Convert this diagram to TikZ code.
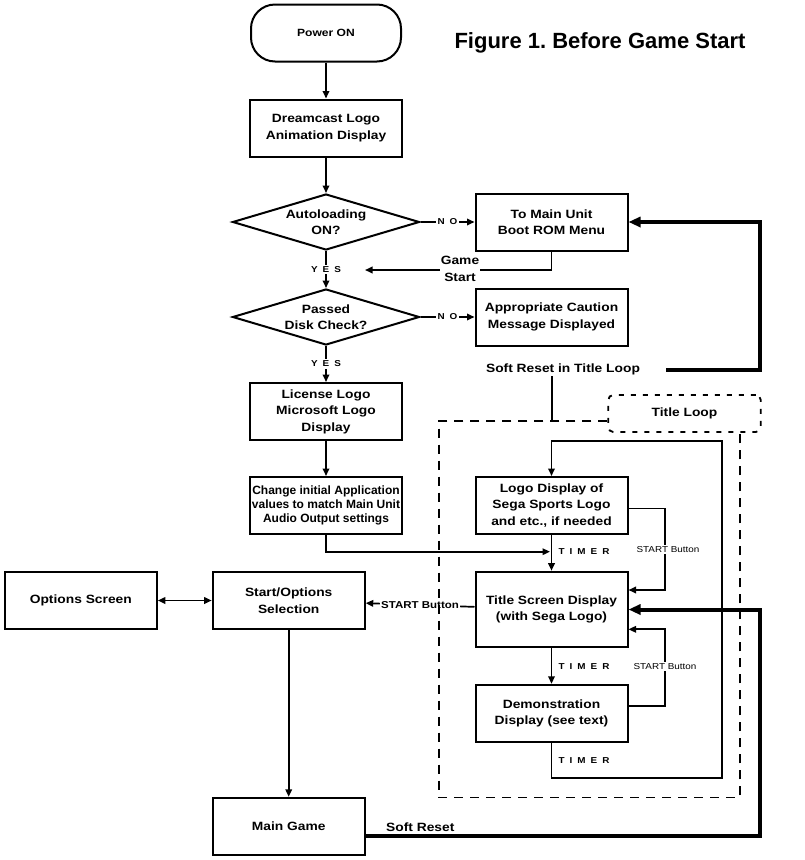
\documentclass[tikz,border=0pt]{standalone}
\usepackage{fontspec}
\setmainfont{Liberation Sans}[FakeStretch=1.15]
\newfontfamily\plainsans{Liberation Sans}
\usetikzlibrary{shapes.geometric,arrows.meta}
\newcommand\lsp{\kern5pt}

\begin{document}
\begin{tikzpicture}[x=1pt,y=-1pt,
    >={Triangle[length=7.5pt,width=6.5pt]},
    box/.style={draw,line width=2pt,minimum width=152pt,minimum height=57pt,inner sep=0pt,align=center,font=\bfseries\fontsize{12}{16.5}\selectfont},
    decision/.style={draw,diamond,line width=2pt,aspect=3.34,minimum width=187pt,minimum height=56pt,inner sep=0pt,align=center,font=\bfseries\fontsize{12}{16.5}\selectfont},
    flow/.style={line width=1.7pt},
    reset/.style={line width=4pt,-{Triangle[length=12pt,width=10pt]}},
    tag/.style={font=\bfseries\fontsize{8.6}{10}\selectfont,inner sep=1.5pt,fill=white},
    smalltag/.style={font=\fontsize{8.6}{10}\selectfont,inner sep=1.5pt,fill=white},
    label/.style={font=\bfseries\fontsize{12}{16.3}\selectfont,align=center,inner sep=1pt}]

\useasboundingbox (0,0) rectangle (805,860);

% main column
\node[box,rounded corners=24pt,minimum width=150pt,font=\bfseries\fontsize{10.5}{12}\selectfont] (power) at (326,33) {Power ON};
\node[font=\plainsans\bfseries\fontsize{22}{26}\selectfont] (figtitle) at (600,43) {Figure 1.\ Before Game Start};
\node[box] (dream) at (326,128) {Dreamcast Logo\\Animation Display};
\node[decision] (auto) at (326,222) {Autoloading\\ON?};
\node[box] (boot) at (551.5,222) {To Main Unit\\Boot ROM Menu};
\node[decision] (passed) at (326,317) {Passed\\Disk Check?};
\node[box] (caution) at (551.5,317) {Appropriate Caution\\Message Displayed};
\node[box] (license) at (326,411.5) {License Logo\\Microsoft Logo\\Display};
\node[box,font=\plainsans\bfseries\fontsize{12}{14}\selectfont] (change) at (326,505.5) {Change initial Application\\values to match Main Unit\\Audio Output settings};

% title loop
\node[box] (logo) at (551.5,505.5) {Logo Display of\\Sega Sports Logo\\and etc., if needed};
\node[box,minimum height=75.6pt] (titlescr) at (551.5,609.5) {Title Screen Display\\(with Sega Logo)};
\node[box] (demo) at (551.5,713.3) {Demonstration\\Display (see text)};
\node[box] (startsel) at (288.7,600.5) {Start/Options\\Selection};
\node[box] (options) at (80.8,600.5) {Options Screen};
\node[box] (maingame) at (288.7,826.3) {Main Game};

\draw[flow,->] (power) -- (dream);
\draw[flow,->] (dream) -- (auto);
\draw[flow,->] (auto) -- node[tag] (no1) {N\lsp O} (boot);
\draw[flow,->] (auto) -- node[tag] (yes1) {Y\lsp E\lsp S} (passed);
\draw[flow,->] (passed) -- node[tag] (no2) {N\lsp O} (caution);
\draw[flow,->] (passed) -- node[tag] (yes2) {Y\lsp E\lsp S} (license);
\draw[flow,->] (license) -- (change);

\coordinate (gsend) at (365,270);
\draw[flow,->] (boot.south) |- (gsend);
\node[label,fill=white] (gamestart) at (460,269) {Game\\Start};

\coordinate (timerjoin) at (550,551.7);
\draw[flow,->] (change.south) |- (timerjoin);
\node[tag,anchor=west,fill=none] (timer1) at (557,552) {T\lsp I\lsp M\lsp E\lsp R};
\draw[flow,->] (logo) -- (titlescr);

\coordinate (sbup) at (665,590);
\draw[flow,->] ([yshift=-3pt]logo.east) -| (sbup) -- (sbup -| titlescr.east);
\node[smalltag] (start1) at (668,549.5) {START Button};

\draw[flow,->] (titlescr) -- node[label,fill=white,font=\bfseries\fontsize{10}{12}\selectfont] (start2) {START Button} (startsel);
\draw[flow,->] (titlescr) -- (demo);
\node[tag,anchor=west,fill=none] (timer2) at (557,666.7) {T\lsp I\lsp M\lsp E\lsp R};

\coordinate (sbdown) at (665,629.3);
\draw[flow,->] ([yshift=7.6pt]demo.east) -| (sbdown) -- (sbdown -| titlescr.east);
\node[smalltag] (start3) at (665,666.7) {START Button};

\coordinate (loopbr) at (722,778.3);
\coordinate (looptr) at (722,441);
\draw[flow,->] (demo.south) |- (loopbr) -- (looptr) -| (logo.north);
\node[tag,anchor=west,fill=none] (timer3) at (557,760.5) {T\lsp I\lsp M\lsp E\lsp R};

\draw[flow,<->] (options) -- (startsel);
\draw[flow,->] (startsel) -- (maingame);

% frame of the title loop
\node[draw,line width=1.8pt,dash pattern=on 5pt off 7pt,rounded corners=5pt,minimum width=152.5pt,minimum height=37pt,font=\bfseries\fontsize{12}{14}\selectfont] (loopbox) at (684.5,413.5) {Title Loop};
\draw[line width=1.8pt,dash pattern=on 9pt off 7pt] (loopbox.west |- 0,421) -- (439,421) -- (439,797.5) -- (740,797.5) -- (740,432);

% soft resets
\node[label] (srtl) at (563,369.5) {Soft Reset in Title Loop};
\coordinate (framejoin) at (552,421);
\draw[line width=2.6pt] (framejoin) -- (framejoin |- srtl.south);
\coordinate (railtop) at (760,222);
\draw[reset] ([xshift=25pt]srtl.east) -| (railtop) -- (boot.east);

\coordinate (railbot) at (760,836);
\draw[reset] (maingame.east |- railbot) -- (railbot) |- (titlescr.east);
\node[label,anchor=base west] (softreset) at (385,831.5) {Soft Reset};

\end{tikzpicture}
\end{document}
